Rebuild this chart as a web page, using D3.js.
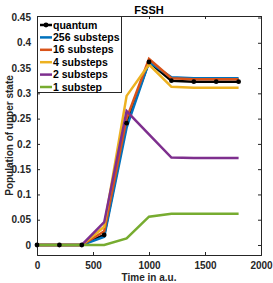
<!DOCTYPE html>
<html>
<head>
<meta charset="utf-8">
<script src="https://cdn.jsdelivr.net/npm/d3@7"></script>
<style>
  body { margin: 0; background: #fff; }
  text { font-family: "Liberation Sans", Arial, sans-serif; font-weight: bold; }
</style>
</head>
<body>
<div id="chart"></div>
<script>
const width = 273
const height = 283

// data
const times = [0, 200, 400, 600, 800, 1000, 1200, 1400, 1600, 1800]
const seriesNames = ["quantum", "256 substeps", "16 substeps", "4 substeps", "2 substeps", "1 substep"]
const quantum = [0, 0, 0, 0.02, 0.241, 0.362, 0.325, 0.323, 0.323, 0.323]
const sub256 = [0, 0, 0, 0.016, 0.232, 0.362, 0.332, 0.330, 0.330, 0.330]
const sub16 = [0, 0, 0, 0.027, 0.25, 0.368, 0.330, 0.328, 0.328, 0.328]
const sub4 = [0, 0, 0, 0.036, 0.295, 0.357, 0.313, 0.311, 0.311, 0.311]
const sub2 = [0, 0, 0, 0.045, 0.265, 0.219, 0.173, 0.172, 0.172, 0.172]
const sub1 = [0, 0, 0, 0, 0.013, 0.056, 0.062, 0.062, 0.062, 0.062]
const xTicks = [0, 500, 1000, 1500, 2000]
const yTicks = [0, 0.05, 0.1, 0.15, 0.2, 0.25, 0.3, 0.35, 0.4, 0.45]

const colors = ["#000000", "#0072BD", "#D95319", "#EDB120", "#7E2F8E", "#77AC30"]
const allSeries = [quantum, sub256, sub16, sub4, sub2, sub1]

const plotL = 37, plotR = 261, plotT = 16, plotB = 255

const svg = d3.select("#chart")
              .append("svg")
              .attr("width", width)
              .attr("height", height)

const x = d3.scaleLinear().domain([0, 2000]).range([plotL, plotR])
const y = d3.scaleLinear().domain([-0.0198, 0.453]).range([plotB, plotT])

// axes, ticks inside, box on
svg.append("g")
   .attr("transform", "translate(0," + plotB + ")")
   .call(d3.axisBottom(x).tickValues(xTicks).tickSize(-3).tickPadding(7).tickFormat(d3.format("d")))
svg.append("g")
   .attr("transform", "translate(0," + plotT + ")")
   .call(d3.axisTop(x).tickValues(xTicks).tickSize(-3).tickFormat(""))
svg.append("g")
   .attr("transform", "translate(" + plotL + ",0)")
   .call(d3.axisLeft(y).tickValues(yTicks).tickSize(-3).tickPadding(6).tickFormat(d => d === 0 ? "0" : d3.format("")(+d.toFixed(2))))
svg.append("g")
   .attr("transform", "translate(" + plotR + ",0)")
   .call(d3.axisRight(y).tickValues(yTicks).tickSize(-3).tickFormat(""))

svg.selectAll(".domain").attr("stroke", "#262626")
svg.selectAll(".tick line").attr("stroke", "#262626")
svg.selectAll(".tick text").attr("font-size", 10).attr("fill", "#262626")
   .style("font-family", "Liberation Sans, Arial, sans-serif").style("font-weight", "bold")

// lines
const line = d3.line().x((d, i) => x(times[i])).y(d => y(d))

allSeries.forEach((s, k) => {
  svg.append("path")
     .datum(s)
     .attr("fill", "none")
     .attr("stroke", colors[k])
     .attr("stroke-width", 2.5)
     .attr("stroke-linejoin", "miter")
     .attr("d", line)
})

// quantum markers
svg.append("g")
   .selectAll("circle")
   .data(quantum)
   .enter()
   .append("circle")
   .attr("cx", (d, i) => x(times[i]))
   .attr("cy", d => y(d))
   .attr("r", 2.4)
   .attr("fill", "#000")

// title + labels
svg.append("text")
   .attr("x", (plotL + plotR) / 2)
   .attr("y", 14)
   .attr("text-anchor", "middle")
   .attr("font-size", 11)
   .text("FSSH")

svg.append("text")
   .attr("x", (plotL + plotR) / 2)
   .attr("y", 281)
   .attr("text-anchor", "middle")
   .attr("font-size", 10)
   .attr("fill", "#262626")
   .text("Time in a.u.")

svg.append("text")
   .attr("transform", "translate(13," + ((plotT + plotB) / 2) + ") rotate(-90)")
   .attr("text-anchor", "middle")
   .attr("font-size", 10)
   .attr("fill", "#262626")
   .text("Population of upper state")

// legend
const legend = svg.append("g").attr("id", "legend")
legend.append("rect")
      .attr("x", 37.5)
      .attr("y", 16.5)
      .attr("width", 84)
      .attr("height", 76)
      .attr("fill", "#fff")
      .attr("stroke", "#262626")
      .attr("stroke-width", 1)

seriesNames.forEach((name, i) => {
  const ly = 25 + 12.4 * i
  legend.append("line")
        .attr("x1", 40).attr("x2", 52)
        .attr("y1", ly).attr("y2", ly)
        .attr("stroke", colors[i])
        .attr("stroke-width", 2.5)
  if (i === 0) {
    legend.append("circle").attr("cx", 46).attr("cy", ly).attr("r", 2.4).attr("fill", "#000")
  }
  legend.append("text")
        .attr("x", 53)
        .attr("y", ly + 3.6)
        .attr("font-size", 10.5)
        .text(name)
})
</script>
</body>
</html>
